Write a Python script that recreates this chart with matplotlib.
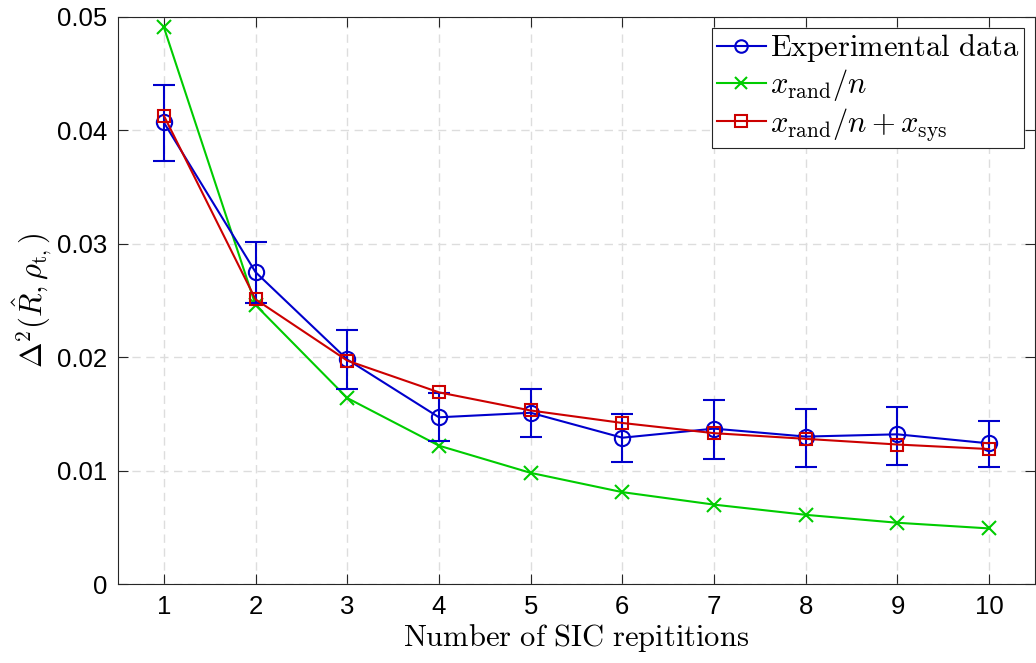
import matplotlib.pyplot as plt
from matplotlib.lines import Line2D
import numpy as np

# Data
n = [1, 2, 3, 4, 5, 6, 7, 8, 9, 10]
exp_mean = [0.0407, 0.0275, 0.0198, 0.0147, 0.0151, 0.0129, 0.0137, 0.0130, 0.0132, 0.0124]
exp_upper = [0.0440, 0.0302, 0.0224, 0.0168, 0.0172, 0.0150, 0.0162, 0.0154, 0.0156, 0.0144]
exp_lower = [0.0373, 0.0248, 0.0172, 0.0126, 0.0130, 0.0108, 0.0110, 0.0103, 0.0105, 0.0103]
rand_only = [0.0491, 0.0246, 0.0164, 0.0122, 0.0098, 0.0081, 0.0070, 0.0061, 0.0054, 0.0049]
rand_sys = [0.0413, 0.0251, 0.0197, 0.0169, 0.0153, 0.0142, 0.0133, 0.0128, 0.0123, 0.0119]

plt.rcParams['mathtext.fontset'] = 'cm'
plt.rcParams['font.family'] = ['Liberation Sans', 'DejaVu Sans']

blue = (0, 0, 0.8)
green = (0, 0.8, 0)
red = (0.8, 0, 0)

fig = plt.figure(figsize=(10.36, 6.63), dpi=100)
ax = fig.add_axes([118 / 1036, 79 / 663, 917 / 1036, 567 / 663])

err = [np.array(exp_mean) - np.array(exp_lower), np.array(exp_upper) - np.array(exp_mean)]
ax.errorbar(n, exp_mean, yerr=err, color=blue, marker='o', markersize=11, mfc='none',
            mew=1.5, lw=1.5, capsize=8, capthick=1.5, elinewidth=1.5, zorder=3)
ax.plot(n, rand_only, color=green, marker='x', markersize=10, mew=1.5, lw=1.5, zorder=2)
ax.plot(n, rand_sys, color=red, marker='s', markersize=8, mfc='none', mew=1.5, lw=1.5, zorder=4)

ax.set_xlim(0.5, 10.5)
ax.set_ylim(0, 0.05)
ax.set_xticks(n)
ax.set_yticks([0, 0.01, 0.02, 0.03, 0.04, 0.05])
ax.set_yticklabels(['0', '0.01', '0.02', '0.03', '0.04', '0.05'])
ax.tick_params(direction='in', top=True, right=True, labelsize=18.5, length=7,
               color='#262626', width=0.8, pad=8)
for s in ax.spines.values():
    s.set_color('#262626')
    s.set_linewidth(0.8)

ax.grid(True, linestyle=(0, (6, 4)), color='#dddddd', linewidth=1)
ax.set_axisbelow(True)

ax.set_xlabel(r'$\mathrm{Number\ of\ SIC\ repititions}$', fontsize=22, labelpad=2)
ax.set_ylabel(r'$\Delta^2(\hat{R},\rho_{\mathrm{t},})$', fontsize=22, labelpad=2)

handles = [
    Line2D([], [], color=blue, marker='o', markersize=9, mfc='none', mew=1.5, lw=1.5),
    Line2D([], [], color=green, marker='x', markersize=9, mew=1.5, lw=1.5),
    Line2D([], [], color=red, marker='s', markersize=8, mfc='none', mew=1.5, lw=1.5),
]
labels = [r'$\mathrm{Experimental\ data}$', r'$x_{\mathrm{rand}}/n$',
          r'$x_{\mathrm{rand}}/n+x_{\mathrm{sys}}$']
leg = ax.legend(handles, labels, loc='upper right', fontsize=22, fancybox=False,
                framealpha=1, edgecolor='#262626', borderaxespad=0.35, handlelength=1.6,
                handletextpad=0.15, labelspacing=0.1, borderpad=0.15)
leg.get_frame().set_linewidth(0.8)

fig.savefig('out.png', dpi=100)
